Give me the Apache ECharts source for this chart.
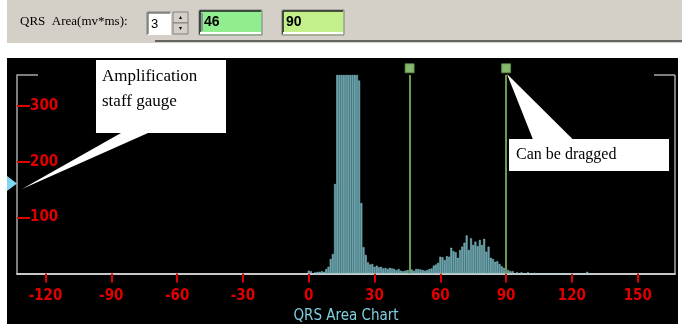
<!DOCTYPE html>
<html>
<head>
<meta charset="utf-8">
<title>QRS Area Chart</title>
<script src="https://cdn.jsdelivr.net/npm/echarts@6/dist/echarts.min.js"></script>
<style>
  html, body { margin: 0; padding: 0; background: #ffffff; }
  #chart { width: 682px; height: 324px; }
</style>
</head>
<body>
<div id="chart"></div>
<script>
// QRS area histogram: one bin per unit of area (mv*ms), starting at firstBin
const firstBin = 0;
const binCounts = [
  5, 4, 0, 2, 3, 3, 4, 3, 8, 12,          // 0-9
  26, 35, 160, 355, 355, 355, 355, 355, 355, 355, // 10-19
  355, 355, 355, 345, 126, 47, 33, 20, 16, 17,    // 20-29
  12, 14, 11, 12, 9, 10, 8, 10, 9, 8,     // 30-39
  6, 8, 5, 4, 5, 6, 7, 7, 5, 8,           // 40-49
  8, 7, 6, 5, 6, 8, 9, 14, 16, 19,        // 50-59
  30, 29, 24, 31, 30, 46, 40, 38, 28, 42, // 60-69
  48, 55, 68, 42, 63, 51, 57, 49, 60, 51, // 70-79
  62, 39, 48, 28, 26, 21, 22, 17, 13, 10, // 80-89
  10, 6, 4, 4, 0, 2, 0, 2, 0, 0,          // 90-99
  2, 0, 0, 1, 0, 0, 0, 0, 0, 0,           // 100-109
  0, 0, 0, 0, 0, 0, 0, 0, 0, 0,           // 110-119
  0, 0, 0, 0, 0, 0, 0, 3                  // 120-127
];

// Axis ticks
const xTickValues = [-120, -90, -60, -30, 0, 30, 60, 90, 120, 150];
const yTickValues = [100, 200, 300];

// Draggable range markers and the amplification spinner value
const markerPositions = [46, 90];
const amplification = 3;

const RED = '#e00000';
const NARROW = "'DejaVu Sans Condensed', 'Liberation Sans Narrow', sans-serif";
const SERIF = "'Liberation Serif', 'DejaVu Serif', serif";
const handleLevel = 367;

const chart = echarts.init(document.getElementById('chart'), null, { renderer: 'canvas' });

const barData = binCounts.map((v, i) => [firstBin + i, v]);

function line(x1, y1, x2, y2, color, width, z) {
  return { type: 'line', shape: { x1, y1, x2, y2 }, style: { stroke: color, lineWidth: width }, z: z || 1, silent: true };
}

const graphics = [
  // window chrome
  { type: 'rect', shape: { x: 7, y: 0, width: 675, height: 43 }, style: { fill: '#d4d0c8' }, z: -2 },
  { type: 'rect', shape: { x: 7, y: 58, width: 671, height: 266 }, style: { fill: '#000000' }, z: -2 },
  line(155, 41, 682, 41, '#404040', 1.5, 1),
  { type: 'text', style: { x: 20, y: 22, text: 'QRS  Area(mv*ms):', font: "13px " + SERIF, fill: '#000', verticalAlign: 'middle' }, z: 1 },
  // spinner input
  { type: 'rect', shape: { x: 147, y: 12, width: 24, height: 23 }, style: { fill: '#ffffff' }, z: 1 },
  line(147, 12, 171, 12, '#808080', 1, 2), line(147, 12, 147, 35, '#808080', 1, 2),
  line(148, 13, 170, 13, '#404040', 1, 2), line(148, 13, 148, 34, '#404040', 1, 2),
  { type: 'text', style: { x: 151, y: 24, text: String(amplification), font: "13px 'Liberation Sans', sans-serif", fill: '#000', verticalAlign: 'middle' }, z: 3 },
  { type: 'rect', shape: { x: 173, y: 12, width: 15, height: 11 }, style: { fill: '#d4d0c8', stroke: '#808080', lineWidth: 1 }, z: 1 },
  { type: 'rect', shape: { x: 173, y: 23, width: 15, height: 11 }, style: { fill: '#d4d0c8', stroke: '#808080', lineWidth: 1 }, z: 1 },
  { type: 'polygon', shape: { points: [[179, 19], [182, 19], [180.5, 16]] }, style: { fill: '#000' }, z: 2 },
  { type: 'polygon', shape: { points: [[179, 27], [182, 27], [180.5, 30]] }, style: { fill: '#000' }, z: 2 },
  // range boxes
  { type: 'rect', shape: { x: 199, y: 10, width: 63, height: 25 }, style: { fill: '#90ee90', stroke: '#808080', lineWidth: 1 }, z: 1 },
  line(200, 11, 261, 11, '#202020', 1.5, 2), line(200, 11, 200, 34, '#202020', 1.5, 2),
  line(200, 33, 261, 33, '#ffffff', 2, 2),
  line(202, 13, 202, 31, '#8a3fb0', 1, 3),
  { type: 'text', style: { x: 204, y: 22, text: String(markerPositions[0]), font: "bold 14px 'Liberation Sans', sans-serif", fill: '#000', verticalAlign: 'middle' }, z: 3 },
  { type: 'rect', shape: { x: 282, y: 10, width: 62, height: 25 }, style: { fill: '#c4f08c', stroke: '#808080', lineWidth: 1 }, z: 1 },
  line(283, 11, 343, 11, '#202020', 1.5, 2), line(283, 11, 283, 34, '#202020', 1.5, 2),
  line(283, 33, 343, 33, '#ffffff', 2, 2),
  { type: 'text', style: { x: 286, y: 22, text: String(markerPositions[1]), font: "bold 14px 'Liberation Sans', sans-serif", fill: '#000', verticalAlign: 'middle' }, z: 3 },
  // plot frame pieces not covered by the axis lines
  line(17, 75, 38, 75, '#a8a8a8', 1.5, 1),
  line(654, 75, 675, 75, '#a8a8a8', 1.5, 1),
  line(675, 75, 675, 273, '#a8a8a8', 1.5, 1),
  // amplification handle
  { type: 'polygon', shape: { points: [[7, 176], [7, 191], [17, 183.5]] }, style: { fill: '#7fd6ee' }, z: 3 },
  // callout: amplification
  { type: 'rect', shape: { x: 95.5, y: 59.5, width: 131, height: 74 }, style: { fill: '#ffffff', stroke: '#000', lineWidth: 1 }, z: 20 },
  { type: 'polygon', shape: { points: [[121, 133], [148, 133], [22, 189]] }, style: { fill: '#ffffff' }, z: 21 },
  { type: 'text', style: { x: 102, y: 77, text: 'Amplification', font: "17px " + SERIF, fill: '#000', verticalAlign: 'middle' }, z: 22 },
  { type: 'text', style: { x: 102, y: 102, text: 'staff gauge', font: "17px " + SERIF, fill: '#000', verticalAlign: 'middle' }, z: 22 },
  // callout: drag hint
  { type: 'rect', shape: { x: 508.5, y: 138.5, width: 161, height: 33 }, style: { fill: '#ffffff', stroke: '#000', lineWidth: 1 }, z: 20 },
  { type: 'polygon', shape: { points: [[507, 74], [533, 139.5], [573, 139.5]] }, style: { fill: '#ffffff' }, z: 21 },
  { type: 'text', style: { x: 516, y: 155, text: 'Can be dragged', font: "16px " + SERIF, fill: '#000', verticalAlign: 'middle' }, z: 22 }
];

chart.setOption({
  animation: false,
  backgroundColor: '#ffffff',
  grid: { left: 17, right: 7, top: 75, bottom: 50.5, containLabel: false, outerBoundsMode: 'none' },
  xAxis: {
    type: 'value',
    min: -133,
    max: 167,
    name: 'QRS Area Chart',
    nameLocation: 'middle',
    nameGap: 34,
    nameTextStyle: { color: '#7fcfe0', fontSize: 15, fontFamily: NARROW },
    axisLine: { show: true, onZero: false, lineStyle: { color: '#c8c8c8', width: 2 } },
    axisTick: { show: true, customValues: xTickValues, length: 9, lineStyle: { color: RED, width: 2 } },
    axisLabel: { show: true, customValues: xTickValues, color: RED, fontWeight: 'bold', fontSize: 15, fontFamily: NARROW, margin: 15 },
    splitLine: { show: false }
  },
  yAxis: {
    type: 'value',
    min: 0,
    max: 355,
    axisLine: { show: true, onZero: false, lineStyle: { color: '#a8a8a8', width: 1.5 } },
    axisTick: { show: true, inside: true, customValues: yTickValues, length: 13, lineStyle: { color: RED, width: 2 } },
    axisLabel: { show: true, inside: true, customValues: yTickValues, color: RED, fontWeight: 'bold', fontSize: 15, fontFamily: NARROW, margin: 13 },
    splitLine: { show: false }
  },
  series: [
    {
      type: 'bar',
      data: barData,
      barWidth: 1.9,
      clip: true,
      itemStyle: { color: '#5a98a2', borderColor: '#9edbe6', borderWidth: 0.4 },
      z: 2
    },
    {
      type: 'scatter',
      data: markerPositions.map(x => [x, handleLevel]),
      symbol: 'rect',
      symbolSize: 9,
      clip: false,
      itemStyle: { color: '#a6e88a', borderColor: '#5f8f45', borderWidth: 1 },
      z: 6,
      markLine: {
        silent: true,
        symbol: ['none', 'none'],
        label: { show: false },
        lineStyle: { color: '#6b9a4c', width: 2, type: 'solid' },
        data: markerPositions.map(x => ({ xAxis: x }))
      }
    }
  ],
  graphic: graphics
});
</script>
</body>
</html>
